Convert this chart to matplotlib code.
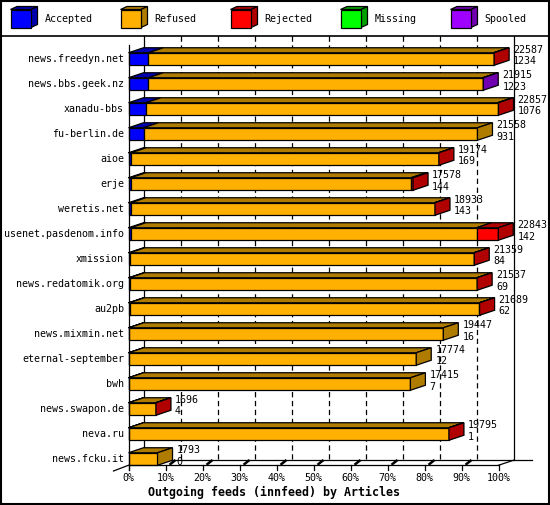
import matplotlib
matplotlib.use("Agg")
import matplotlib.pyplot as plt
from matplotlib.patches import Polygon, Rectangle

plt.rcParams['lines.scale_dashes'] = False

# ---- data ----
feeds = ["news.freedyn.net", "news.bbs.geek.nz", "xanadu-bbs", "fu-berlin.de",
         "aioe", "erje", "weretis.net", "usenet.pasdenom.info", "xmission",
         "news.redatomik.org", "au2pb", "news.mixmin.net", "eternal-september",
         "bwh", "news.swapon.de", "neva.ru", "news.fcku.it"]
offered = [22587, 21915, 22857, 21558, 19174, 17578, 18933, 22843, 21359,
           21537, 21689, 19447, 17774, 17415, 1696, 19795, 1793]
accepted = [1234, 1223, 1076, 931, 169, 144, 143, 142, 84, 69, 62, 16, 12, 7, 4, 1, 0]
refused = [21328, 20662, 21721, 20627, 18985, 17304, 18765, 21361, 21255,
           21453, 21617, 19431, 17762, 17408, 1677, 19789, 1793]
rejected = [25, 0, 60, 0, 20, 130, 25, 1340, 20, 15, 10, 0, 0, 0, 15, 5, 0]
missing = [0] * 17
spooled = [0, 30, 0, 0, 0, 0, 0, 0, 0, 0, 0, 0, 0, 0, 0, 0, 0]

series_names = ["Accepted", "Refused", "Rejected", "Missing", "Spooled"]
series = [accepted, refused, rejected, missing, spooled]
front_cols = ["#0000ff", "#ffb000", "#ff0000", "#00ff00", "#a000ff"]
dark_cols = ["#0000b0", "#b07c00", "#b00000", "#00a000", "#7000b0"]
ticks = [0, 10, 20, 30, 40, 50, 60, 70, 80, 90, 100]

# ---- geometry (pixels of the 550x505 picture) ----
W, H = 550, 505
X0, PXPCT = 128.5, 3.70        # 0% at x=128.5, 3.7 px per percent
ROW0, ROWPX = 59, 25           # first row center, row pitch
DX = 15 / PXPCT                # depth offset in percent
DY = -5 / ROWPX                # depth offset in rows
BH = 0.5                       # bar height in rows
FLOOR = 16.25
TOP = (36 - ROW0) / ROWPX

fig = plt.figure(figsize=(W / 100, H / 100), dpi=100)
fig.patch.set_facecolor("white")

# decoration axes in pixels
deco = fig.add_axes([0, 0, 1, 1])
deco.set_xlim(0, W)
deco.set_ylim(H, 0)
deco.axis("off")

# data axes: percent horizontally, row index vertically
ax = fig.add_axes([0, 0, 1, 1])
ax.set_xlim(-X0 / PXPCT, (W - X0) / PXPCT)
ax.set_ylim((H - ROW0) / ROWPX, -ROW0 / ROWPX)
ax.axis("off")
ax.patch.set_alpha(0)

mono = "DejaVu Sans Mono"
fs = 7.2
lw = 0.9

# outer border and separator
deco.add_patch(Rectangle((0.8, 0.8), W - 1.8, H - 1.8, fill=False, lw=1.5, ec="black"))
deco.plot([0, W], [35.5, 35.5], color="black", lw=1.2)

# legend cubes
for i, name in enumerate(series_names):
    lx = 10.5 + 110 * i
    fx0, fx1, fy0, fy1 = lx, lx + 20.5, 9.5, 27.5
    deco.add_patch(Polygon([(fx0, fy0), (fx0 + 6.5, fy0 - 3), (fx1 + 6.5, fy0 - 3), (fx1, fy0)],
                           closed=True, fc=dark_cols[i], ec="black", lw=lw))
    deco.add_patch(Polygon([(fx1, fy0), (fx1 + 6.5, fy0 - 3), (fx1 + 6.5, fy1 - 3), (fx1, fy1)],
                           closed=True, fc=dark_cols[i], ec="black", lw=lw))
    deco.add_patch(Rectangle((fx0, fy0), fx1 - fx0, fy1 - fy0, fc=front_cols[i], ec="black", lw=lw))
    deco.text(lx + 34, 19, name, family=mono, fontsize=fs, ha="left", va="center")

# back wall lines and gridlines
back_floor = FLOOR + DY
ax.plot([0 + DX, 0 + DX], [TOP, back_floor], color="black", lw=lw)
ax.plot([100 + DX, 100 + DX], [TOP, back_floor], color="black", lw=lw)
for t in ticks[1:-1]:
    ax.plot([t + DX, t + DX], [TOP, back_floor], color="black", lw=lw,
            linestyle=(0, (3.8, 2.6)))
ax.plot([DX, (532 - X0) / PXPCT], [back_floor, back_floor], color="black", lw=lw)

# front axis lines
ax.plot([0, 0], [(45 - ROW0) / ROWPX, FLOOR + 0.2], color="black", lw=lw, zorder=5)
ax.plot([0, 100], [FLOOR, FLOOR], color="black", lw=lw, zorder=5)
ax.plot([100, 100 + DX], [FLOOR, back_floor], color="black", lw=lw, zorder=5)
ax.plot([-DX, 0], [FLOOR - 1.15 * DY, FLOOR], color="black", lw=lw, zorder=5)
for t in ticks:
    ax.plot([t, t], [FLOOR, FLOOR + 0.2], color="black", lw=lw, zorder=5)
    if 0 < t < 100:
        ax.plot([t + 1.35, t + 2.45], [FLOOR - 0.05, back_floor + 0.02],
                color="black", lw=1.8, zorder=5)
    ax.text(t, (478 - ROW0) / ROWPX, f"{t}%", family=mono, fontsize=fs,
            ha="center", va="center")

deco.text(274.5, 492, "Outgoing feeds (innfeed) by Articles",
          family=mono, fontsize=8.4, fontweight="bold", ha="center", va="center")

# bars
vmax = max(offered)
for r, feed in enumerate(feeds):
    top, bot = r - BH / 2, r + BH / 2
    ax.text(-1.2, r, feed, family=mono, fontsize=fs, ha="right", va="center")
    left = 0.0
    last = 1
    segs = []
    for k, s in enumerate(series):
        w = s[r] / vmax * 100
        if s[r] > 0:
            segs.append((left, left + w, k))
            last = k
        left += w
    for x0, x1, k in segs:
        ax.add_patch(Rectangle((x0, top), x1 - x0, BH, fc=front_cols[k],
                               ec="black", lw=lw, zorder=3))
        ax.add_patch(Polygon([(x0, top), (x0 + DX, top + DY), (x1 + DX, top + DY), (x1, top)],
                             closed=True, fc=dark_cols[k], ec="black", lw=lw, zorder=3))
    ax.add_patch(Polygon([(left, top), (left + DX, top + DY), (left + DX, bot + DY), (left, bot)],
                         closed=True, fc=dark_cols[last], ec="black", lw=lw, zorder=3))
    lx = left + DX + 1.1
    ax.text(lx, r - 0.36, str(offered[r]), family=mono, fontsize=fs,
            ha="left", va="center", zorder=6)
    ax.text(lx, r + 0.1, str(accepted[r]), family=mono, fontsize=fs,
            ha="left", va="center", zorder=6)

fig.savefig("out.png", dpi=100)
